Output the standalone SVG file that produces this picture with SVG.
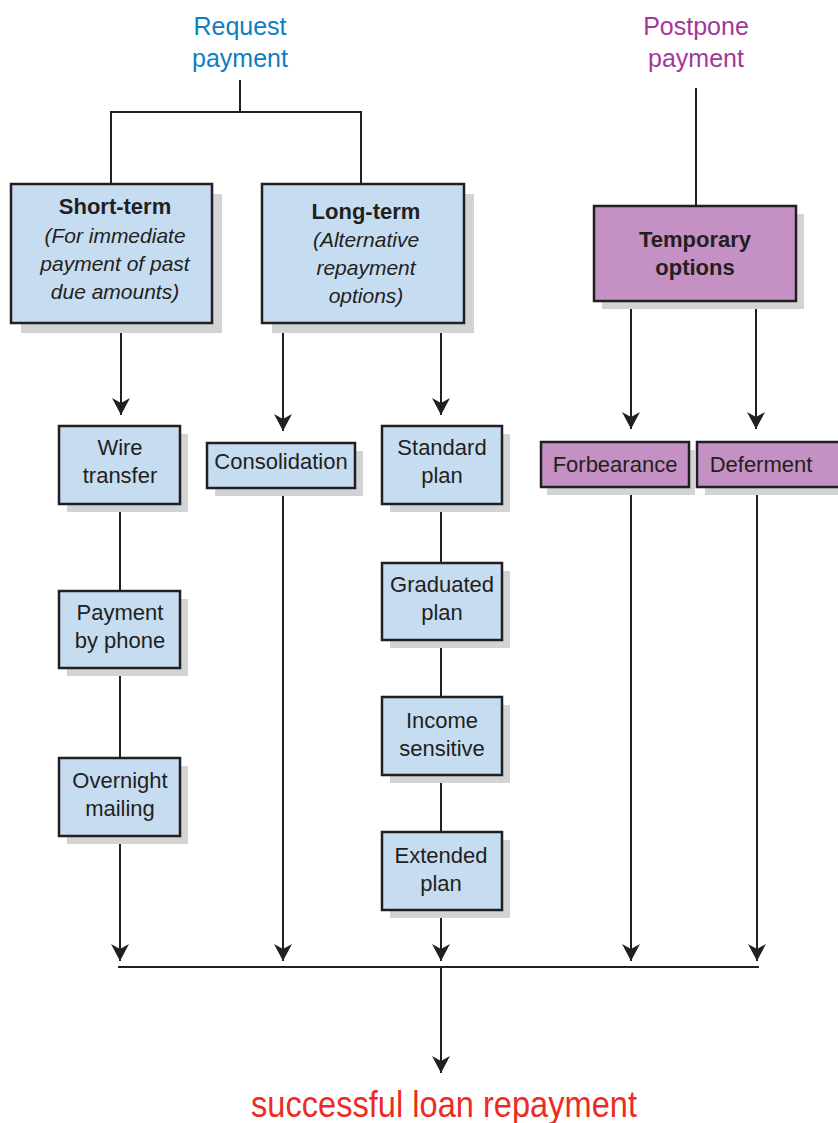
<svg xmlns="http://www.w3.org/2000/svg" width="838" height="1123" viewBox="0 0 838 1123">
<style>
.sh{fill:#d1d3d4}
.bl{fill:#c6dcf1;stroke:#231f20;stroke-width:2.5}
.pu{fill:#c590c3;stroke:#231f20;stroke-width:2.5}
text{font-family:"Liberation Sans",Arial,sans-serif;fill:#231f20;text-anchor:middle}
.t{font-size:22px}
.b{font-size:22px;font-weight:bold}
.i{font-size:21px;font-style:italic}
.hd{font-size:25px}
.ln{fill:none;stroke:#231f20;stroke-width:2}
</style>
<defs>
<marker id="ah" markerUnits="userSpaceOnUse" markerWidth="20" markerHeight="20" viewBox="0 -10 20 20" refX="17" refY="0" orient="auto">
<path d="M0,-9 L17,0 L0,9 L5,0 Z" fill="#231f20"/>
</marker>
</defs>
<g id="labels">
<text class="hd" x="240" y="35" style="fill:#0f7dc2">Request</text>
<text class="hd" x="240" y="67" style="fill:#0f7dc2">payment</text>
<text class="hd" x="696" y="35" style="fill:#a3379b">Postpone</text>
<text class="hd" x="696" y="67" style="fill:#a3379b">payment</text>
<text x="444" y="1117" style="fill:#ec2b24;font-size:36px" textLength="386" lengthAdjust="spacingAndGlyphs">successful loan repayment</text>
</g>
<g id="connectors">
<path class="ln" d="M240,80 V112 M111,184 V112 H361 V184 M696,88 V206"/>
<path class="ln" d="M120,504 V591 M120,668 V758 M441,504 V563 M441,640 V697 M441,775 V832 M118,967 H759"/>
<path class="ln" marker-end="url(#ah)" d="M121,323 V415"/>
<path class="ln" marker-end="url(#ah)" d="M283,323 V431"/>
<path class="ln" marker-end="url(#ah)" d="M441,323 V415"/>
<path class="ln" marker-end="url(#ah)" d="M631,301 V429"/>
<path class="ln" marker-end="url(#ah)" d="M756,301 V429"/>
<path class="ln" marker-end="url(#ah)" d="M120,836 V961"/>
<path class="ln" marker-end="url(#ah)" d="M283,488 V961"/>
<path class="ln" marker-end="url(#ah)" d="M441,910 V961"/>
<path class="ln" marker-end="url(#ah)" d="M631,487 V961"/>
<path class="ln" marker-end="url(#ah)" d="M757,487 V961"/>
<path class="ln" marker-end="url(#ah)" d="M441,967 V1073"/>
</g>
<g id="short-term">
<rect class="sh" x="21" y="194" width="201" height="139"/>
<rect class="bl" x="11" y="184" width="201" height="139"/>
<text class="b" x="115" y="214">Short-term</text>
<text class="i" x="115" y="243">(For immediate</text>
<text class="i" x="115" y="271">payment of past</text>
<text class="i" x="115" y="299">due amounts)</text>
</g>
<g id="long-term">
<rect class="sh" x="272" y="194" width="202" height="139"/>
<rect class="bl" x="262" y="184" width="202" height="139"/>
<text class="b" x="366" y="219">Long-term</text>
<text class="i" x="366" y="247">(Alternative</text>
<text class="i" x="366" y="275">repayment</text>
<text class="i" x="366" y="303">options)</text>
</g>
<g id="temporary">
<rect class="sh" x="602" y="214" width="202" height="95"/>
<rect class="pu" x="594" y="206" width="202" height="95"/>
<text class="b" x="695" y="247">Temporary</text>
<text class="b" x="695" y="275">options</text>
</g>
<g id="wire">
<rect class="sh" x="67" y="434" width="121" height="78"/>
<rect class="bl" x="59" y="426" width="121" height="78"/>
<text class="t" x="120" y="455">Wire</text>
<text class="t" x="120" y="483">transfer</text>
</g>
<g id="phone">
<rect class="sh" x="67" y="599" width="121" height="77"/>
<rect class="bl" x="59" y="591" width="121" height="77"/>
<text class="t" x="120" y="620">Payment</text>
<text class="t" x="120" y="648">by phone</text>
</g>
<g id="overnight">
<rect class="sh" x="67" y="766" width="121" height="78"/>
<rect class="bl" x="59" y="758" width="121" height="78"/>
<text class="t" x="120" y="788">Overnight</text>
<text class="t" x="120" y="816">mailing</text>
</g>
<g id="consolidation">
<rect class="sh" x="215" y="451" width="148" height="45"/>
<rect class="bl" x="207" y="443" width="148" height="45"/>
<text class="t" x="281" y="469">Consolidation</text>
</g>
<g id="standard">
<rect class="sh" x="390" y="434" width="120" height="78"/>
<rect class="bl" x="382" y="426" width="120" height="78"/>
<text class="t" x="442" y="455">Standard</text>
<text class="t" x="442" y="483">plan</text>
</g>
<g id="graduated">
<rect class="sh" x="390" y="571" width="120" height="77"/>
<rect class="bl" x="382" y="563" width="120" height="77"/>
<text class="t" x="442" y="592">Graduated</text>
<text class="t" x="442" y="620">plan</text>
</g>
<g id="income">
<rect class="sh" x="390" y="705" width="120" height="78"/>
<rect class="bl" x="382" y="697" width="120" height="78"/>
<text class="t" x="442" y="728">Income</text>
<text class="t" x="442" y="756">sensitive</text>
</g>
<g id="extended">
<rect class="sh" x="390" y="840" width="120" height="78"/>
<rect class="bl" x="382" y="832" width="120" height="78"/>
<text class="t" x="441" y="863">Extended</text>
<text class="t" x="441" y="891">plan</text>
</g>
<g id="forbearance">
<rect class="sh" x="547" y="450" width="148" height="45"/>
<rect class="pu" x="541" y="442" width="148" height="45"/>
<text class="t" x="615" y="472">Forbearance</text>
</g>
<g id="deferment">
<rect class="sh" x="705" y="450" width="145" height="45"/>
<rect class="pu" x="697" y="442" width="145" height="45"/>
<text class="t" x="761" y="472">Deferment</text>
</g>
</svg>
